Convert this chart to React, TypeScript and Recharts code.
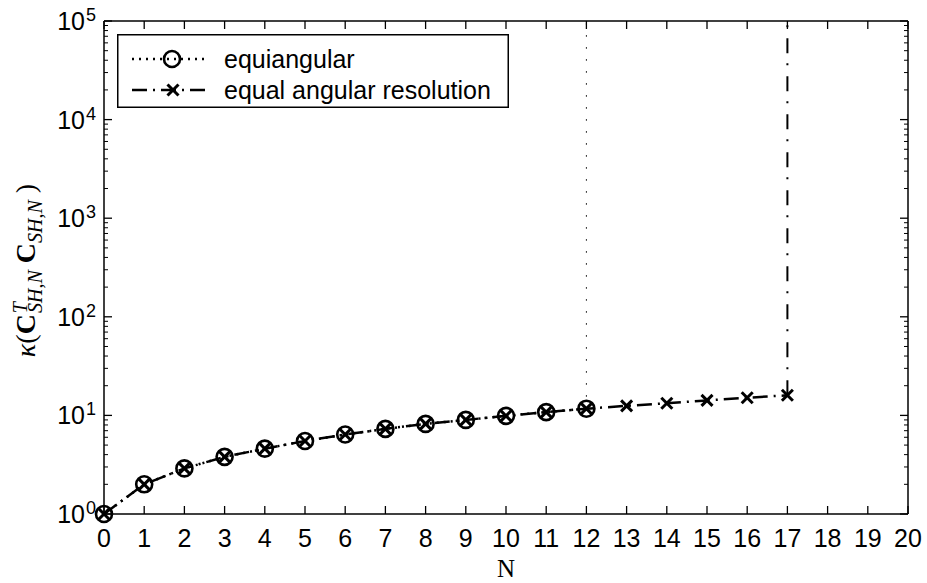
import React from "react";
import { LineChart, Line, XAxis, YAxis, Legend } from "recharts";

// condition number of C^T C vs. SH order N
const N_EQUI = [0, 1, 2, 3, 4, 5, 6, 7, 8, 9, 10, 11, 12];
const K_EQUI = [1, 2.0, 2.9, 3.8, 4.6, 5.5, 6.4, 7.3, 8.2, 9.0, 9.9, 10.8, 11.7];
const N_EAR = [0, 1, 2, 3, 4, 5, 6, 7, 8, 9, 10, 11, 12, 13, 14, 15, 16, 17];
const K_EAR = [1, 2.0, 2.9, 3.8, 4.6, 5.5, 6.4, 7.3, 8.2, 9.0, 9.9, 10.8, 11.7, 12.5, 13.3, 14.2, 15.1, 16.0];
// both curves blow up past their last order
const BLOWUP = 100000;

const X_TICKS = [0, 1, 2, 3, 4, 5, 6, 7, 8, 9, 10, 11, 12, 13, 14, 15, 16, 17, 18, 19, 20];
const Y_MAJOR = [1, 10, 100, 1000, 10000, 100000];
const Y_MINOR = Y_MAJOR.slice(0, -1).flatMap((d) => [2, 3, 4, 5, 6, 7, 8, 9].map((m) => m * d));
const Y_ALL = [...Y_MAJOR, ...Y_MINOR].sort((a, b) => a - b);

const SANS = "'Liberation Sans', Arial, Helvetica, sans-serif";
const SERIF = "'Liberation Serif', 'Times New Roman', serif";

const equi = N_EQUI.map((n, i) => ({ n, k: K_EQUI[i] }));
const ear = N_EAR.map((n, i) => ({ n, k: K_EAR[i] }));
const equiRise = [equi[equi.length - 1], { n: N_EQUI[N_EQUI.length - 1], k: BLOWUP }];
const earRise = [ear[ear.length - 1], { n: N_EAR[N_EAR.length - 1], k: BLOWUP }];

const DOTTED = "2 5";
const DASHDOT = "15 6 2 6";

const MAJOR_LEN = 8;
const MINOR_LEN = 4;
const X_MARGIN = 33;
const Y_MARGIN = 8;

const isMajor = (v: number) => Y_MAJOR.includes(v);

function circleDot(p: any) {
  if (p.cx == null || p.cy == null) return <g key={p.index} />;
  return <circle key={p.index} cx={p.cx} cy={p.cy} r={8} fill="none" stroke="#000" strokeWidth={2.6} />;
}

function crossDot(p: any) {
  if (p.cx == null || p.cy == null) return <g key={p.index} />;
  const s = 5.5;
  return (
    <g key={p.index} stroke="#000" strokeWidth={3}>
      <line x1={p.cx - s} y1={p.cy - s} x2={p.cx + s} y2={p.cy + s} />
      <line x1={p.cx - s} y1={p.cy + s} x2={p.cx + s} y2={p.cy - s} />
    </g>
  );
}

// bottom: label plus inward tick
function BottomTick(props: any) {
  const { x, y, payload } = props;
  const y0 = y - X_MARGIN;
  return (
    <g>
      <line x1={x} y1={y0} x2={x} y2={y0 - MAJOR_LEN} stroke="#000" strokeWidth={1.3} />
      <text x={x} y={y} textAnchor="middle" fontFamily={SANS} fontSize={25} fill="#000">
        {payload.value}
      </text>
    </g>
  );
}

function TopTick(props: any) {
  const { x, y } = props;
  return <line x1={x} y1={y} x2={x} y2={y + MAJOR_LEN} stroke="#000" strokeWidth={1.3} />;
}

function LeftTick(props: any) {
  const { x, y, payload } = props;
  const v = payload.value;
  const x0 = x + Y_MARGIN;
  const major = isMajor(v);
  return (
    <g>
      <line x1={x0} y1={y} x2={x0 + (major ? MAJOR_LEN : MINOR_LEN)} y2={y} stroke="#000" strokeWidth={major ? 1.3 : 1} />
      {major && (
        <text x={x} y={y + 9} textAnchor="end" fontFamily={SANS} fontSize={25} fill="#000">
          <tspan>10</tspan>
          <tspan dx={1} dy={-9} fontSize={18}>
            {Math.round(Math.log10(v))}
          </tspan>
        </text>
      )}
    </g>
  );
}

function RightTick(props: any) {
  const { x, y, payload } = props;
  const major = isMajor(payload.value);
  return <line x1={x} y1={y} x2={x - (major ? MAJOR_LEN : MINOR_LEN)} y2={y} stroke="#000" strokeWidth={major ? 1.3 : 1} />;
}

function yLabel(p: any) {
  const vb = p.viewBox || { x: 10, y: 21, width: 94, height: 493 };
  const cx = vb.x + 25;
  const cy = vb.y + vb.height / 2 + 3;
  return (
    <text
      transform={`translate(${cx},${cy}) rotate(-90)`}
      textAnchor="middle"
      fontFamily={SERIF}
      fontSize={28}
      fill="#000"
    >
      <tspan fontStyle="italic">κ</tspan>
      <tspan>(</tspan>
      <tspan fontWeight="bold">C</tspan>
      <tspan fontStyle="italic" fontSize={20} dx={1} dy={-8}>T</tspan>
      <tspan fontStyle="italic" fontSize={20} dx={-11} dy={15}>SH,N</tspan>
      <tspan dy={-7}> </tspan>
      <tspan fontWeight="bold">C</tspan>
      <tspan fontStyle="italic" fontSize={20} dy={7}>SH,N</tspan>
      <tspan dy={-7}> )</tspan>
    </text>
  );
}

function xLabel(p: any) {
  const vb = p.viewBox || { x: 104, y: 514, width: 804, height: 60 };
  return (
    <text x={vb.x + vb.width / 2} y={vb.y + 63} textAnchor="middle" fontFamily={SERIF} fontSize={25} fill="#000">
      N
    </text>
  );
}

function LegendBox() {
  const rows = [
    { name: "equiangular", dash: DOTTED, marker: "o" },
    { name: "equal angular resolution", dash: DASHDOT, marker: "x" },
  ];
  return (
    <svg width={392} height={74} style={{ display: "block" }}>
      <rect x={0.75} y={0.75} width={390.5} height={72.5} fill="#fff" stroke="#000" strokeWidth={1.5} />
      {rows.map((r, i) => {
        const cy = 25 + i * 31;
        return (
          <g key={r.name}>
            <line x1={15} y1={cy} x2={90} y2={cy} stroke="#000" strokeWidth={2.5} strokeDasharray={r.dash} />
            {r.marker === "o" ? circleDot({ cx: 55, cy, index: "l" + i }) : crossDot({ cx: 56, cy, index: "l" + i })}
            <text x={107} y={cy + 9} fontFamily={SANS} fontSize={25} fill="#000">
              {r.name}
            </text>
          </g>
        );
      })}
    </svg>
  );
}

const axisStroke = { stroke: "#000", strokeWidth: 1.5 };

export default function App() {
  return (
    <div style={{ position: "absolute", left: 0, top: 0, width: 927, height: 583, background: "#fff" }}>
      <LineChart width={927} height={583} margin={{ top: 20, right: 18, bottom: 9, left: 10 }}>
        <XAxis
          xAxisId="b"
          type="number"
          dataKey="n"
          domain={[0, 20]}
          ticks={X_TICKS}
          interval={0}
          height={60}
          tickSize={0}
          tickMargin={X_MARGIN}
          axisLine={axisStroke}
          tickLine={false}
          tick={<BottomTick />}
          label={xLabel}
        />
        <XAxis
          xAxisId="t"
          orientation="top"
          type="number"
          dataKey="n"
          domain={[0, 20]}
          ticks={X_TICKS}
          interval={0}
          allowDataOverflow
          height={1}
          tickSize={0}
          tickMargin={0}
          axisLine={axisStroke}
          tickLine={false}
          tick={<TopTick />}
        />
        <YAxis
          yAxisId="l"
          type="number"
          scale="log"
          domain={[1, 100000]}
          ticks={Y_ALL}
          interval={0}
          width={94}
          tickSize={0}
          tickMargin={Y_MARGIN}
          axisLine={axisStroke}
          tickLine={false}
          tick={<LeftTick />}
          label={yLabel}
        />
        <YAxis
          yAxisId="r"
          orientation="right"
          type="number"
          scale="log"
          domain={[1, 100000]}
          allowDataOverflow
          ticks={Y_ALL}
          interval={0}
          width={1}
          tickSize={0}
          tickMargin={0}
          axisLine={axisStroke}
          tickLine={false}
          tick={<RightTick />}
        />
        <Legend
          verticalAlign="middle"
          align="center"
          layout="horizontal"
          content={() => <LegendBox />}
          wrapperStyle={{ position: "absolute", left: 117, top: 34, width: 392, height: 74 }}
        />
        {/* invisible series so the top/right box axes get a scale */}
        <Line
          xAxisId="t"
          yAxisId="r"
          data={ear}
          dataKey="k"
          stroke="none"
          dot={false}
          activeDot={false}
          legendType="none"
          isAnimationActive={false}
        />
        <Line
          xAxisId="b"
          yAxisId="l"
          data={equiRise}
          dataKey="k"
          type="linear"
          stroke="#000"
          strokeWidth={1}
          strokeDasharray="1.5 10.5"
          dot={false}
          legendType="none"
          isAnimationActive={false}
        />
        <Line
          xAxisId="b"
          yAxisId="l"
          data={earRise}
          dataKey="k"
          type="linear"
          stroke="#000"
          strokeWidth={2}
          strokeDasharray="15 11 2 10"
          dot={false}
          legendType="none"
          isAnimationActive={false}
        />
        <Line
          xAxisId="b"
          yAxisId="l"
          data={equi}
          dataKey="k"
          name="equiangular"
          type="linear"
          stroke="#000"
          strokeWidth={2.5}
          strokeDasharray={DOTTED}
          dot={circleDot}
          isAnimationActive={false}
        />
        <Line
          xAxisId="b"
          yAxisId="l"
          data={ear}
          dataKey="k"
          name="equal angular resolution"
          type="linear"
          stroke="#000"
          strokeWidth={2.5}
          strokeDasharray={DASHDOT}
          dot={crossDot}
          isAnimationActive={false}
        />
      </LineChart>
    </div>
  );
}
